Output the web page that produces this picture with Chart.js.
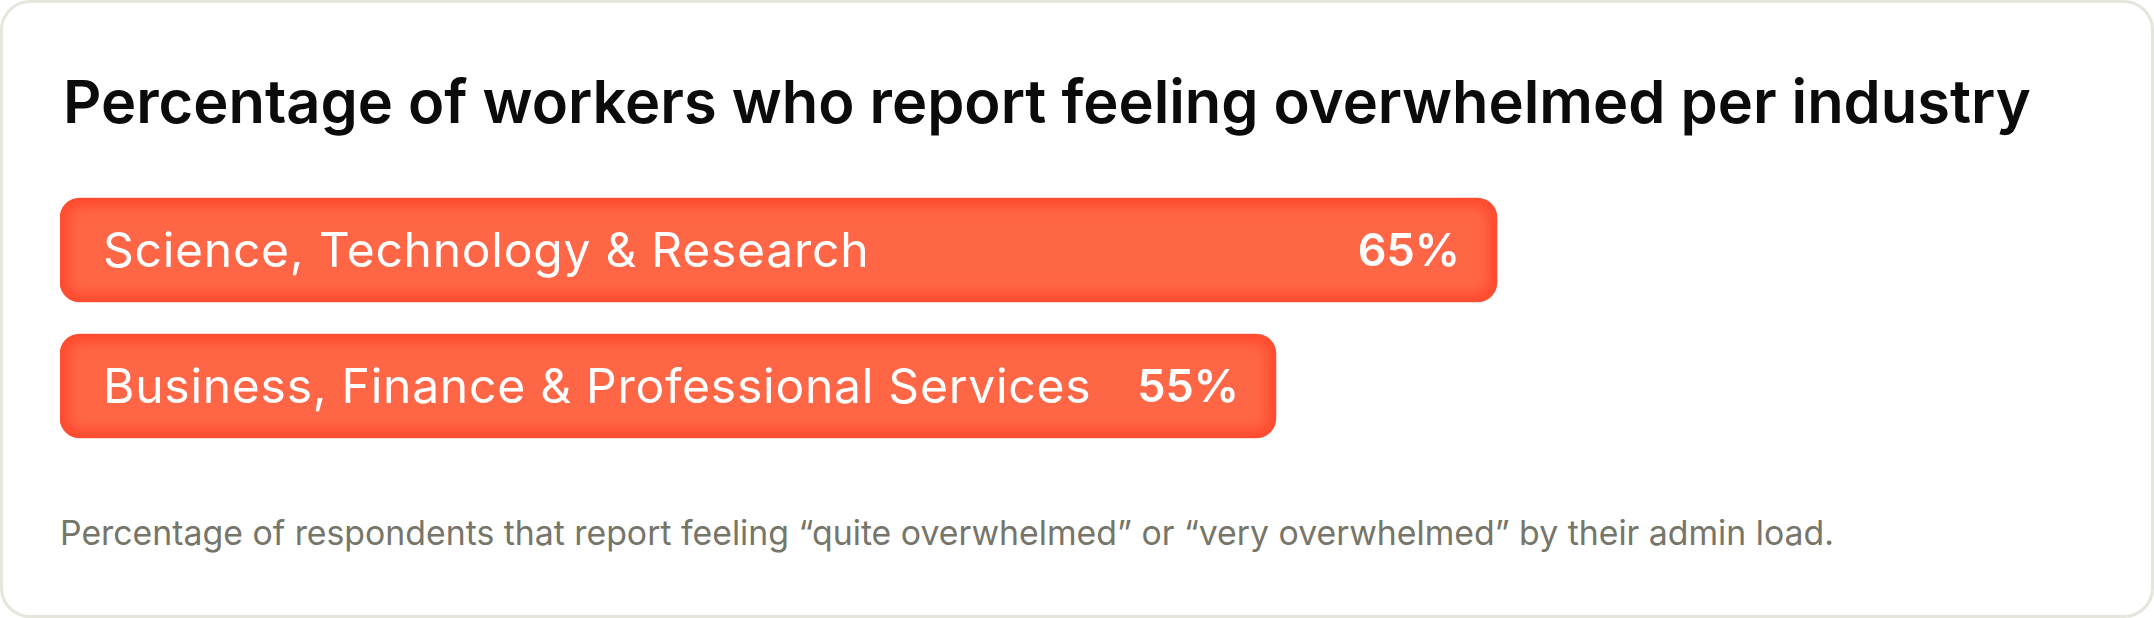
<!DOCTYPE html>
<html>
<head>
<meta charset="utf-8">
<script src="https://cdn.jsdelivr.net/npm/chart.js@4"></script>
<style>
    html, body { margin: 0; padding: 0; background: #fff; }
    .card {
        position: relative;
        width: 2154px; height: 618px;
        box-sizing: border-box;
        border: 3px solid #e6e5dc;
        border-radius: 30px;
        background: #fff;
        font-family: Inter, sans-serif;
    }
    .card h1 {
        position: absolute; left: 60px; top: 62px; margin: 0;
        font-size: 59.6px; font-weight: 600; color: #0b0b0b; letter-spacing: 0px;
        line-height: 72px; white-space: nowrap;
    }
    .chart-box { position: absolute; left: 57px; top: 179px; width: 2034px; height: 272px; }
    .note {
        position: absolute; left: 57px; top: 510px; margin: 0;
        font-size: 33.8px; font-weight: 400; color: #76756a; line-height: 40px; white-space: nowrap;
    }
</style>
</head>
<body>
<div class="card">
    <h1>Percentage of workers who report feeling overwhelmed per industry</h1>
    <div class="chart-box"><canvas id="industryChart"></canvas></div>
    <p class="note">Percentage of respondents that report feeling “quite overwhelmed” or “very overwhelmed” by their admin load.</p>
</div>
<script>
const industries = ['Science, Technology & Research', 'Business, Finance & Professional Services'];
const overwhelmedPct = [65, 55];
const axisMax = 92;

const barColor = '#ff6646';
const glowColor = '#ff4a2f';

// rounded rect path for a bar element
function barPath(ctx, bar, r) {
    const left = Math.min(bar.base, bar.x), right = Math.max(bar.base, bar.x);
    const top = bar.y - bar.height / 2, h = bar.height;
    ctx.beginPath();
    ctx.roundRect(left, top, right - left, h, r);
}

const barDecor = {
    id: 'barDecor',
    afterDatasetsDraw(chart) {
        const ctx = chart.ctx;
        const meta = chart.getDatasetMeta(0);
        meta.data.forEach((bar, i) => {
            // inner darker glow along the edges
            ctx.save();
            barPath(ctx, bar, 20);
            ctx.clip();
            ctx.filter = 'blur(6px)';
            barPath(ctx, bar, 20);
            ctx.lineWidth = 18;
            ctx.strokeStyle = glowColor;
            ctx.stroke();
            ctx.restore();

            // category label and value inside the bar
            ctx.save();
            ctx.fillStyle = '#fff';
            ctx.textBaseline = 'alphabetic';
            ctx.font = '400 48px Inter';
            ctx.letterSpacing = '0.75px';
            ctx.textAlign = 'left';
            ctx.fillText(industries[i], bar.base + 43, bar.y + 17);
            ctx.font = '600 45px Inter';
            ctx.letterSpacing = '0px';
            ctx.textAlign = 'right';
            ctx.fillText(overwhelmedPct[i] + '%', bar.x - 37, bar.y + 16);
            ctx.restore();
        });
    }
};

new Chart(document.getElementById('industryChart'), {
    type: 'bar',
    data: {
        labels: industries,
        datasets: [{
            data: overwhelmedPct,
            backgroundColor: barColor,
            borderWidth: 0,
            borderRadius: 20,
            borderSkipped: false,
            barThickness: 104
        }]
    },
    options: {
        indexAxis: 'y',
        responsive: true, maintainAspectRatio: false,
        animation: false,
        layout: { padding: 0 },
        plugins: { legend: { display: false }, tooltip: { enabled: false } },
        scales: {
            x: { min: 0, max: axisMax, display: false },
            y: { display: false }
        }
    },
    plugins: [barDecor]
});
</script>
</body>
</html>
